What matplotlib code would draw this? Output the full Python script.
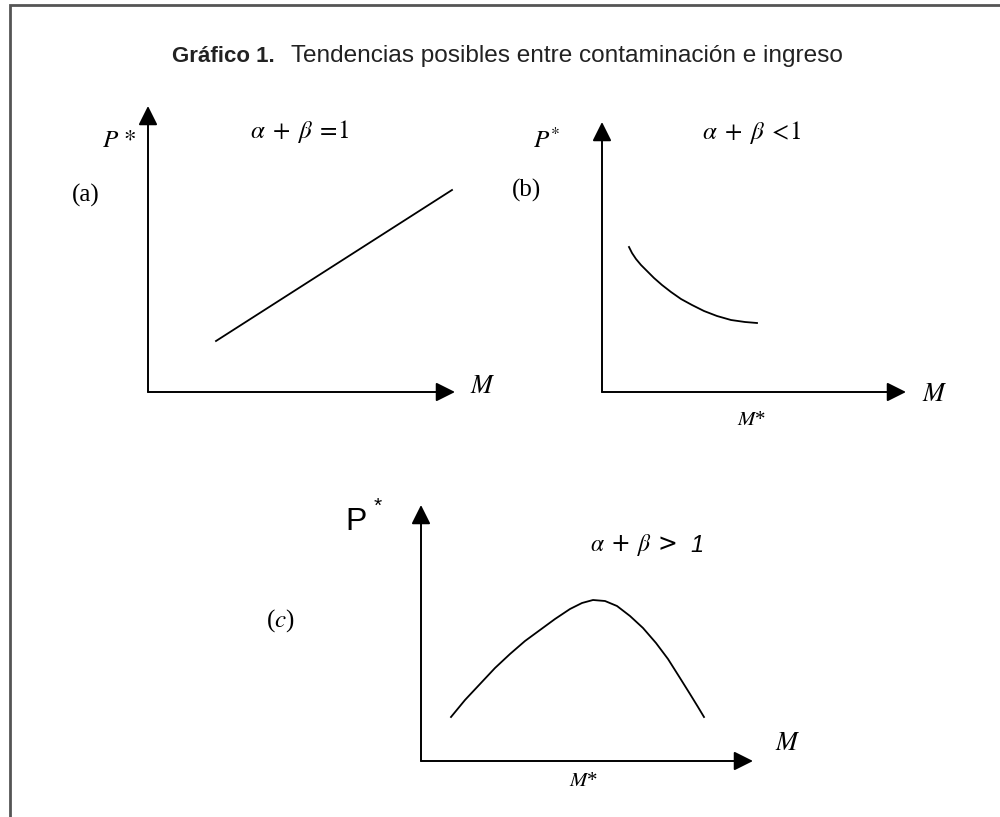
"""
Gráfico 1 — tendencias posibles entre contaminación e ingreso (tres paneles esquemáticos).
Salida: out.png (1000x817)
"""

import matplotlib
matplotlib.use("Agg")
import matplotlib.pyplot as plt

plt.rcParams["mathtext.fontset"] = "stix"

SERIF = ["Liberation Serif", "DejaVu Serif"]
SANS = ["Liberation Sans", "DejaVu Sans"]
INK = "#000000"
FRAME = "#555555"

# Curvas (coordenadas de la lámina, y hacia abajo)
line_a_x = [216, 452]
line_a_y = [341, 190]

curve_b_x = [629, 632, 636, 641, 647, 654, 662, 671, 681, 692, 704, 717, 731, 745, 757]
curve_b_y = [247, 253, 259, 265, 271, 278, 285, 292, 299, 305, 311, 316, 320, 322, 323]

curve_c_x = [451, 465, 480, 495, 510, 525, 540, 555, 570, 582, 593,
             605, 617, 630, 643, 656, 668, 680, 690, 698, 704]
curve_c_y = [717, 700, 684, 668, 654, 641, 630, 619, 609, 603, 600,
             601, 606, 616, 628, 643, 659, 678, 694, 707, 717]

# Ejes de cada panel: origen, extremo de flecha en y, extremo de flecha en x
axes_origin = [(148, 392), (602, 392), (421, 761)]
axes_ytip = [106, 122, 505]
axes_xtip = [455, 906, 753]


def arrow(ax, start, end):
    ax.annotate("", xy=end, xytext=start,
                arrowprops=dict(arrowstyle="-|>", mutation_scale=29, lw=1.4,
                                color=INK, shrinkA=0, shrinkB=0))


fig = plt.figure(figsize=(10, 8.17), dpi=100)
ax = fig.add_axes([0, 0, 1, 1])
ax.set_xlim(0, 1000)
ax.set_ylim(817, 0)
ax.axis("off")

# marco
ax.plot([10, 10, 1000], [817, 5, 5], color=FRAME, lw=2, solid_joinstyle="miter")

# título
ax.text(172, 56, "Gráfico 1.", ha="left", va="center", fontsize=16,
        fontweight="bold", family=SANS, color="#222222")
ax.text(291, 56, "Tendencias posibles entre contaminación e ingreso", ha="left",
        va="center", fontsize=17.6, family=SANS, color="#222222")

# ejes con flechas
for (ox, oy), ytip, xtip in zip(axes_origin, axes_ytip, axes_xtip):
    arrow(ax, (ox, oy), (ox, ytip))
    arrow(ax, (ox, oy), (xtip, oy))

# curvas
ax.plot(line_a_x, line_a_y, color=INK, lw=1.3)
ax.plot(curve_b_x, curve_b_y, color=INK, lw=1.3)
ax.plot(curve_c_x, curve_c_y, color=INK, lw=1.3)

# panel (a)
ax.text(102, 140, r"$P\,*$", ha="left", va="center", fontsize=18)
ax.text(72, 195, "(a)", ha="left", va="center", fontsize=18, family=SERIF)
ax.text(250, 131, r"$\alpha\;+\;\beta\;=\!1$", ha="left", va="center", fontsize=18)
ax.text(470, 386, r"$M$", ha="left", va="center", fontsize=19)

# panel (b)
ax.text(533, 140, r"$P^{*}$", ha="left", va="center", fontsize=18)
ax.text(512, 190, "(b)", ha="left", va="center", fontsize=18, family=SERIF)
ax.text(702, 132, r"$\alpha\;+\;\beta\;<\!1$", ha="left", va="center", fontsize=18)
ax.text(922, 394, r"$M$", ha="left", va="center", fontsize=19)
ax.text(752, 420, r"$M$*", ha="center", va="center", fontsize=15, family=SERIF)

# panel (c)
ax.text(345, 522, "P", ha="left", va="center", fontsize=23, family=SANS)
ax.text(374, 506, "*", ha="left", va="center", fontsize=15, family=SANS)
ax.text(590, 545, r"$\alpha$ + $\beta$ > ", ha="left", va="center", fontsize=17)
ax.text(690, 545, "1", ha="left", va="center", fontsize=17, style="italic",
        family=SANS)
ax.text(266, 621, r"($c$)", ha="left", va="center", fontsize=18, family=SERIF)
ax.text(775, 743, r"$M$", ha="left", va="center", fontsize=19)
ax.text(584, 782, r"$M$*", ha="center", va="center", fontsize=15, family=SERIF)

fig.savefig("out.png", dpi=100, facecolor="white")
